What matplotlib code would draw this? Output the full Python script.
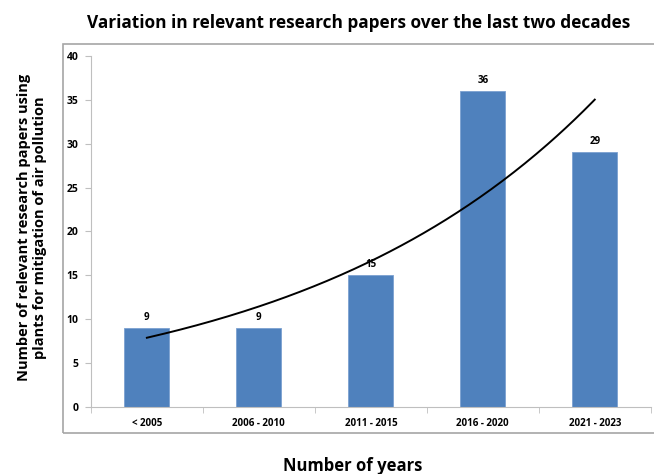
import matplotlib.pyplot as plt
from matplotlib.patches import Rectangle
import numpy as np

categories = ['< 2005', '2006 - 2010', '2011 - 2015', '2016 - 2020', '2021 - 2023']
papers = [9, 9, 15, 36, 29]
y_ticks = [0, 5, 10, 15, 20, 25, 30, 35, 40]

plt.rcParams['font.family'] = ['Open Sans', 'DejaVu Sans']

fig = plt.figure(figsize=(6.54, 4.74), dpi=100)
ax = fig.add_axes([0.139, 0.1414, 0.856, 0.7406])

x = np.arange(1, len(categories) + 1)
ax.bar(x, papers, width=0.4, color='#4F81BD', edgecolor='#7BA0D0', linewidth=0.6, zorder=2)
for xi, v in zip(x, papers):
    ax.text(xi, v + 0.6, str(v), ha='center', va='bottom', fontsize=7, fontweight='bold')

# exponential trendline
b, a = np.polyfit(x, np.log(papers), 1)
xs = np.linspace(1, 5, 200)
ax.plot(xs, np.exp(a + b * xs), color='black', linewidth=1.4, zorder=3)

ax.set_xlim(0.5, 5.5)
ax.set_ylim(0, 40)
ax.set_yticks(y_ticks)
ax.set_xticks(x)
ax.set_xticklabels(categories, fontsize=7, fontweight='bold')
ax.set_xticks(np.arange(0.5, 5.6, 1), minor=True)
ax.tick_params(axis='x', which='major', length=0, pad=8)
ax.tick_params(axis='x', which='minor', length=4, color='#BFBFBF', direction='out')
ax.tick_params(axis='y', length=4, color='#BFBFBF', labelsize=7.5, pad=5)
for lab in ax.get_yticklabels():
    lab.set_fontweight('bold')
for s in ['top', 'right']:
    ax.spines[s].set_visible(False)
for s in ['left', 'bottom']:
    ax.spines[s].set_color('#BFBFBF')

ax.set_title('Variation in relevant research papers over the last two decades',
             fontsize=12.4, fontweight='bold', x=0.478, y=1.055)

fig.patches.append(Rectangle((0.0963, 0.0865), 0.95, 0.8207, transform=fig.transFigure,
                             fill=False, edgecolor='#A6A6A6', linewidth=1.2))

fig.text(0.049, 0.52, 'Number of relevant research papers using\nplants for mitigation of air pollution',
         rotation=90, ha='center', va='center', fontsize=10.5, fontweight='bold', linespacing=1.25)
fig.text(0.54, 0.017, 'Number of years', ha='center', va='center', fontsize=12, fontweight='bold')

plt.savefig('out.png', dpi=100)
